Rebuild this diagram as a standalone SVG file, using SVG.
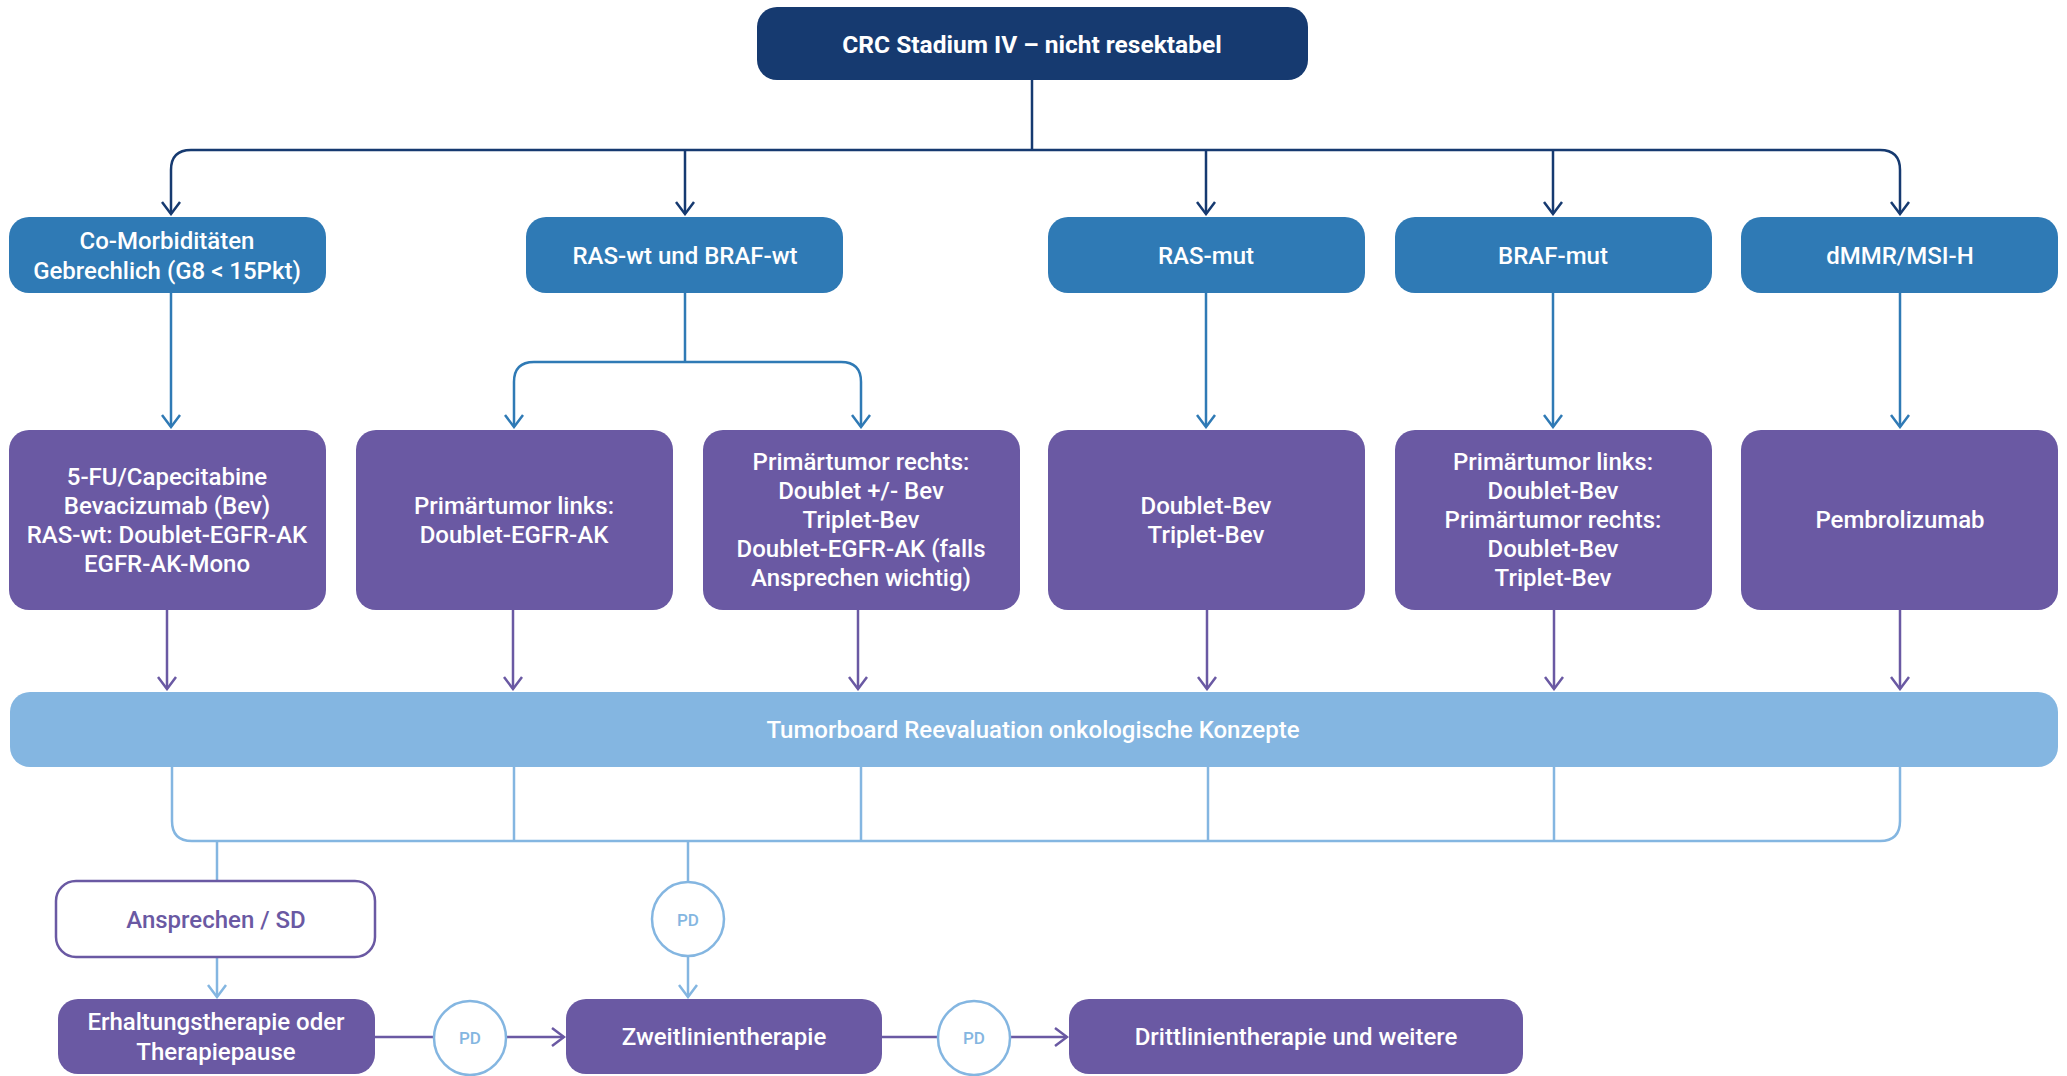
<svg xmlns="http://www.w3.org/2000/svg" width="2067" height="1076" viewBox="0 0 2067 1076">
  <style>
    text { font-family: Roboto, "Liberation Sans", Arial, sans-serif; font-size: 24px; font-weight: 500; text-anchor: middle; dominant-baseline: central; }
    text.head { font-weight: 700; font-size: 24.5px; }
    .title { fill: #163a70; }
    .sub { fill: #2f7ab5; }
    .ther { fill: #6a59a3; }
    .board { fill: #84b6e1; }
    .outline { fill: #ffffff; stroke: #6a59a3; stroke-width: 2.5; }
    .pd { fill: #ffffff; stroke: #84b6e1; stroke-width: 2.5; }
    .w { fill: #ffffff; }
    .pt { fill: #6a59a3; }
    text.pdt { fill: #84b6e1; font-size: 17px; }
    .c { fill: none; stroke-width: 2.5; }
    .navy { stroke: #163a70; }
    .blue { stroke: #2f7ab5; }
    .purple { stroke: #6a59a3; }
    .light { stroke: #84b6e1; }
  </style>
  <defs>
    <marker id="m-navy" viewBox="-14 -11 16 22" refX="0" refY="0" markerWidth="16" markerHeight="22" markerUnits="userSpaceOnUse" orient="auto">
      <path d="M-12,-9 L0,0 L-12,9" fill="none" stroke="#163a70" stroke-width="2.5"/>
    </marker>
    <marker id="m-blue" viewBox="-14 -11 16 22" refX="0" refY="0" markerWidth="16" markerHeight="22" markerUnits="userSpaceOnUse" orient="auto">
      <path d="M-12,-9 L0,0 L-12,9" fill="none" stroke="#2f7ab5" stroke-width="2.5"/>
    </marker>
    <marker id="m-purple" viewBox="-14 -11 16 22" refX="0" refY="0" markerWidth="16" markerHeight="22" markerUnits="userSpaceOnUse" orient="auto">
      <path d="M-12,-9 L0,0 L-12,9" fill="none" stroke="#6a59a3" stroke-width="2.5"/>
    </marker>
    <marker id="m-light" viewBox="-14 -11 16 22" refX="0" refY="0" markerWidth="16" markerHeight="22" markerUnits="userSpaceOnUse" orient="auto">
      <path d="M-12,-9 L0,0 L-12,9" fill="none" stroke="#84b6e1" stroke-width="2.5"/>
    </marker>
  </defs>

  <rect width="2067" height="1076" fill="#ffffff"/>

  <!-- connectors -->
  <g id="connectors">
    <!-- start node to the five groups -->
    <path class="c navy" d="M1032,80 V150"/>
    <path class="c navy" d="M1032,150 H191 Q171,150 171,170 V214" marker-end="url(#m-navy)"/>
    <path class="c navy" d="M1032,150 H1880 Q1900,150 1900,170 V214" marker-end="url(#m-navy)"/>
    <path class="c navy" d="M685,150 V214" marker-end="url(#m-navy)"/>
    <path class="c navy" d="M1206,150 V214" marker-end="url(#m-navy)"/>
    <path class="c navy" d="M1553,150 V214" marker-end="url(#m-navy)"/>

    <!-- groups to first-line therapy -->
    <path class="c blue" d="M171,293 V427" marker-end="url(#m-blue)"/>
    <path class="c blue" d="M685,293 V362"/>
    <path class="c blue" d="M685,362 H534 Q514,362 514,382 V427" marker-end="url(#m-blue)"/>
    <path class="c blue" d="M685,362 H841 Q861,362 861,382 V427" marker-end="url(#m-blue)"/>
    <path class="c blue" d="M1206,293 V427" marker-end="url(#m-blue)"/>
    <path class="c blue" d="M1553,293 V427" marker-end="url(#m-blue)"/>
    <path class="c blue" d="M1900,293 V427" marker-end="url(#m-blue)"/>

    <!-- therapies to tumor board -->
    <path class="c purple" d="M167,610 V689" marker-end="url(#m-purple)"/>
    <path class="c purple" d="M513,610 V689" marker-end="url(#m-purple)"/>
    <path class="c purple" d="M858,610 V689" marker-end="url(#m-purple)"/>
    <path class="c purple" d="M1207,610 V689" marker-end="url(#m-purple)"/>
    <path class="c purple" d="M1554,610 V689" marker-end="url(#m-purple)"/>
    <path class="c purple" d="M1900,610 V689" marker-end="url(#m-purple)"/>

    <!-- tumor board collector -->
    <path class="c light" d="M172,767 V821 Q172,841 192,841 H1880 Q1900,841 1900,821 V767"/>
    <path class="c light" d="M514,767 V841"/>
    <path class="c light" d="M861,767 V841"/>
    <path class="c light" d="M1208,767 V841"/>
    <path class="c light" d="M1554,767 V841"/>
    <path class="c light" d="M217,841 V881"/>
    <path class="c light" d="M688,841 V882"/>
    <path class="c light" d="M217,957 V997" marker-end="url(#m-light)"/>
    <path class="c light" d="M688,956 V997" marker-end="url(#m-light)"/>

    <!-- progression chain -->
    <path class="c purple" d="M375,1037 H433"/>
    <path class="c purple" d="M507,1037 H564" marker-end="url(#m-purple)"/>
    <path class="c purple" d="M882,1037 H938"/>
    <path class="c purple" d="M1010,1037 H1067" marker-end="url(#m-purple)"/>
  </g>

  <g id="start">
    <rect class="title" x="757" y="7" width="551" height="73" rx="20"/>
    <text class="w head" x="1032" y="44">CRC Stadium IV – nicht resektabel</text>
  </g>

  <g id="comorbid">
    <rect class="sub" x="9" y="217" width="317" height="76" rx="20"/>
    <text class="w" x="167" y="241">Co-Morbiditäten</text>
    <text class="w" x="167" y="271">Gebrechlich (G8 &lt; 15Pkt)</text>
  </g>
  <g id="raswt">
    <rect class="sub" x="526" y="217" width="317" height="76" rx="20"/>
    <text class="w" x="685" y="256">RAS-wt und BRAF-wt</text>
  </g>
  <g id="rasmut">
    <rect class="sub" x="1048" y="217" width="317" height="76" rx="20"/>
    <text class="w" x="1206" y="256">RAS-mut</text>
  </g>
  <g id="brafmut">
    <rect class="sub" x="1395" y="217" width="317" height="76" rx="20"/>
    <text class="w" x="1553" y="256">BRAF-mut</text>
  </g>
  <g id="dmmr">
    <rect class="sub" x="1741" y="217" width="317" height="76" rx="20"/>
    <text class="w" x="1900" y="256">dMMR/MSI-H</text>
  </g>

  <g id="ther-comorbid">
    <rect class="ther" x="9" y="430" width="317" height="180" rx="20"/>
    <text class="w" x="167" y="477">5-FU/Capecitabine</text>
    <text class="w" x="167" y="506">Bevacizumab (Bev)</text>
    <text class="w" x="167" y="535">RAS-wt: Doublet-EGFR-AK</text>
    <text class="w" x="167" y="564">EGFR-AK-Mono</text>
  </g>
  <g id="ther-left">
    <rect class="ther" x="356" y="430" width="317" height="180" rx="20"/>
    <text class="w" x="514" y="506">Primärtumor links:</text>
    <text class="w" x="514" y="535">Doublet-EGFR-AK</text>
  </g>
  <g id="ther-right">
    <rect class="ther" x="703" y="430" width="317" height="180" rx="20"/>
    <text class="w" x="861" y="462">Primärtumor rechts:</text>
    <text class="w" x="861" y="491">Doublet +/- Bev</text>
    <text class="w" x="861" y="520">Triplet-Bev</text>
    <text class="w" x="861" y="549">Doublet-EGFR-AK (falls</text>
    <text class="w" x="861" y="578">Ansprechen wichtig)</text>
  </g>
  <g id="ther-rasmut">
    <rect class="ther" x="1048" y="430" width="317" height="180" rx="20"/>
    <text class="w" x="1206" y="506">Doublet-Bev</text>
    <text class="w" x="1206" y="535">Triplet-Bev</text>
  </g>
  <g id="ther-brafmut">
    <rect class="ther" x="1395" y="430" width="317" height="180" rx="20"/>
    <text class="w" x="1553" y="462">Primärtumor links:</text>
    <text class="w" x="1553" y="491">Doublet-Bev</text>
    <text class="w" x="1553" y="520">Primärtumor rechts:</text>
    <text class="w" x="1553" y="549">Doublet-Bev</text>
    <text class="w" x="1553" y="578">Triplet-Bev</text>
  </g>
  <g id="ther-dmmr">
    <rect class="ther" x="1741" y="430" width="317" height="180" rx="20"/>
    <text class="w" x="1900" y="520">Pembrolizumab</text>
  </g>

  <g id="tumorboard">
    <rect class="board" x="10" y="692" width="2048" height="75" rx="20"/>
    <text class="w" x="1033" y="730">Tumorboard Reevaluation onkologische Konzepte</text>
  </g>

  <g id="response">
    <rect class="outline" x="56" y="881" width="319" height="76" rx="20"/>
    <text class="pt" x="216" y="920">Ansprechen / SD</text>
  </g>
  <g id="pd-1">
    <ellipse class="pd" cx="688" cy="919" rx="36" ry="37"/>
    <text class="pdt" x="688" y="920">PD</text>
  </g>
  <g id="maintenance">
    <rect class="ther" x="58" y="999" width="317" height="75" rx="20"/>
    <text class="w" x="216" y="1022">Erhaltungstherapie oder</text>
    <text class="w" x="216" y="1052">Therapiepause</text>
  </g>
  <g id="pd-2">
    <ellipse class="pd" cx="470" cy="1038" rx="36" ry="37"/>
    <text class="pdt" x="470" y="1038">PD</text>
  </g>
  <g id="second-line">
    <rect class="ther" x="566" y="999" width="316" height="75" rx="20"/>
    <text class="w" x="724" y="1037">Zweitlinientherapie</text>
  </g>
  <g id="pd-3">
    <ellipse class="pd" cx="974" cy="1038" rx="36" ry="37"/>
    <text class="pdt" x="974" y="1038">PD</text>
  </g>
  <g id="third-line">
    <rect class="ther" x="1069" y="999" width="454" height="75" rx="20"/>
    <text class="w" x="1296" y="1037">Drittlinientherapie und weitere</text>
  </g>
</svg>
